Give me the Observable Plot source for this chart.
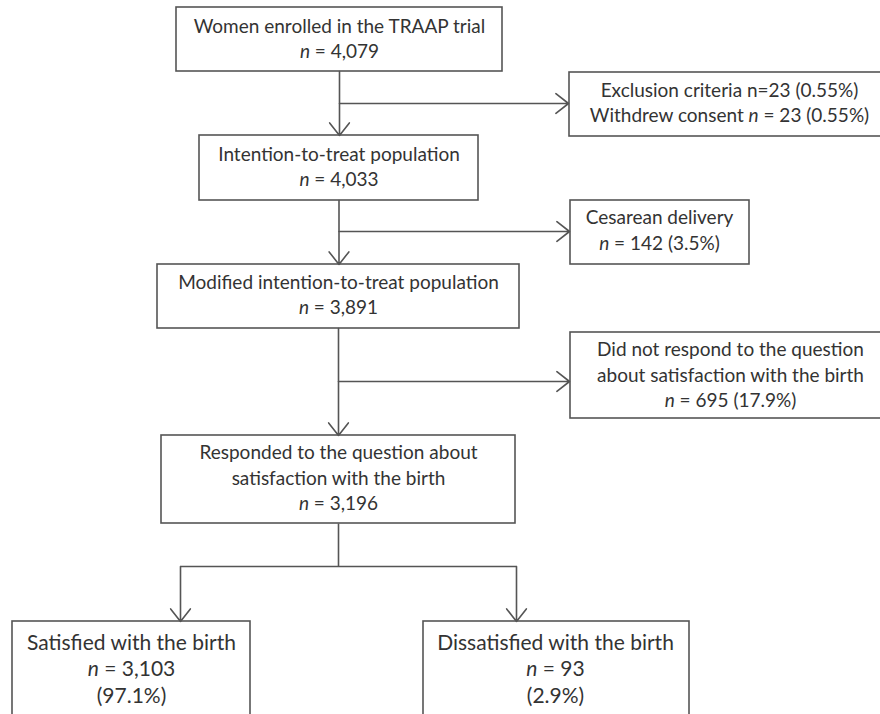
<!DOCTYPE html>
<html>
<head>
<meta charset="utf-8">
<script src="https://cdn.jsdelivr.net/npm/d3@7"></script>
<script src="https://cdn.jsdelivr.net/npm/@observablehq/plot@0.6"></script>
<style>
  html, body { margin: 0; padding: 0; background: #fff; overflow: hidden; }
  #chart svg { overflow: hidden; display: block; }
</style>
</head>
<body>
<div id="chart"></div>
<script>
// ---- content ----
const mainTitles = [
  ["Women enrolled in the TRAAP trial"],
  ["Intention-to-treat population"],
  ["Modified intention-to-treat population"],
  ["Responded to the question about", "satisfaction with the birth"]
];
const mainCounts = ["4,079", "4,033", "3,891", "3,196"];

const sideLines = [
  ["Exclusion criteria n=23 (0.55%)", "Withdrew consent n = 23 (0.55%)"],
  ["Cesarean delivery", "n = 142 (3.5%)"],
  ["Did not respond to the question", "about satisfaction with the birth", "n = 695 (17.9%)"]
];

const outcomeTitles = ["Satisfied with the birth", "Dissatisfied with the birth"];
const outcomeCounts = ["3,103", "93"];
const outcomePercents = ["97.1%", "2.9%"];

// ---- layout (separate from the data) ----
const mainLayout = [
  {x1: 176, x2: 502, y1: 7,   y2: 71,  cx: 339,   cy: 39},
  {x1: 199, x2: 478, y1: 135, y2: 200, cx: 338.5, cy: 167},
  {x1: 157, x2: 519, y1: 264, y2: 328, cx: 338,   cy: 295},
  {x1: 161, x2: 515, y1: 435, y2: 523, cx: 338,   cy: 478}
];
const sideLayout = [
  {x1: 569, x2: 890, y1: 72,  y2: 136, cx: 729, cy: 103,   branchY: 103, fromX: 339},
  {x1: 570, x2: 749, y1: 200, y2: 264, cx: 659, cy: 230.5, branchY: 231, fromX: 338.5},
  {x1: 570, x2: 890, y1: 332, y2: 418, cx: 730, cy: 375,   branchY: 381, fromX: 338}
];
const outcomeLayout = [
  {x1: 12,  x2: 250, y1: 621, y2: 740, cx: 131, cy: 669, arrowX: 180},
  {x1: 423, x2: 689, y1: 621, y2: 740, cx: 555, cy: 669, arrowX: 516}
];
const forkY = 566;
const lineGap = 25.5;

// ---- build tables ----
const boxes = [...mainLayout, ...sideLayout, ...outcomeLayout];

const texts = [];
const outcomeTexts = [];
function addLines(target, lines, L, gap) {
  lines.forEach((t, i) => {
    target.push({x: L.cx, y: L.cy + (i - (lines.length - 1) / 2) * gap, text: t});
  });
}
mainTitles.forEach((t, i) => addLines(texts, [...t, "n = " + mainCounts[i]], mainLayout[i], lineGap));
sideLines.forEach((t, i) => addLines(texts, t, sideLayout[i], lineGap));
outcomeTitles.forEach((t, i) =>
  addLines(outcomeTexts, [t, "n = " + outcomeCounts[i], "(" + outcomePercents[i] + ")"], outcomeLayout[i], 26.5));

const arrows = [];
for (let i = 0; i < mainLayout.length - 1; i++) {
  const a = mainLayout[i], b = mainLayout[i + 1];
  arrows.push({x1: a.cx, y1: a.y2, x2: a.cx, y2: b.y1});
}
sideLayout.forEach(s => arrows.push({x1: s.fromX, y1: s.branchY, x2: s.x1 - 1, y2: s.branchY}));
outcomeLayout.forEach(o => arrows.push({x1: o.arrowX, y1: forkY, x2: o.arrowX, y2: o.y1}));

const last = mainLayout[mainLayout.length - 1];
const links = [
  {x1: last.cx, y1: last.y2, x2: last.cx, y2: forkY},
  {x1: outcomeLayout[0].arrowX, y1: forkY, x2: outcomeLayout[1].arrowX, y2: forkY}
];

const stroke = "#555";
const font = "Lato, 'Open Sans', sans-serif";
const chart = Plot.plot({
  width: 880,
  height: 714,
  margin: 0,
  style: {background: "#fff", overflow: "hidden"},
  x: {domain: [0, 880], range: [0, 880], axis: null},
  y: {domain: [0, 714], range: [0, 714], axis: null},
  marks: [
    Plot.rect(boxes, {x1: "x1", x2: "x2", y1: "y1", y2: "y2", fill: "none", stroke, strokeWidth: 1.6}),
    Plot.link(links, {x1: "x1", y1: "y1", x2: "x2", y2: "y2", stroke, strokeWidth: 1.6}),
    Plot.arrow(arrows, {x1: "x1", y1: "y1", x2: "x2", y2: "y2", stroke, strokeWidth: 1.6, headLength: 15, headAngle: 76}),
    Plot.text(texts, {x: "x", y: "y", text: "text", fill: "#333", fontSize: 19,
      fontFamily: font, textAnchor: "middle", className: "lbl"}),
    Plot.text(outcomeTexts, {x: "x", y: "y", text: "text", fill: "#333", fontSize: 21,
      fontFamily: font, textAnchor: "middle", className: "lbl"})
  ]
});
document.getElementById("chart").appendChild(chart);

// italicise the statistic "n" in "n = ..."
chart.querySelectorAll("g.lbl text").forEach(el => {
  const s = el.textContent;
  const idx = s.indexOf("n = ");
  if (idx >= 0) {
    el.textContent = "";
    if (idx > 0) el.appendChild(document.createTextNode(s.slice(0, idx)));
    const ts = document.createElementNS("http://www.w3.org/2000/svg", "tspan");
    ts.setAttribute("font-style", "italic");
    ts.textContent = "n";
    el.appendChild(ts);
    el.appendChild(document.createTextNode(s.slice(idx + 1)));
  }
});
</script>
</body>
</html>
